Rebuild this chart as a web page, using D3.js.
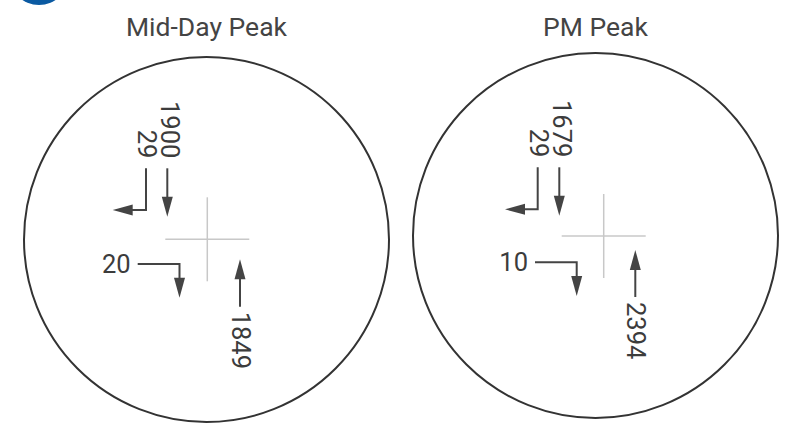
<!DOCTYPE html>
<html>
<head>
<meta charset="utf-8">
<script src="https://cdn.jsdelivr.net/npm/d3@7"></script>
<style>
  html, body { margin: 0; padding: 0; background: #fff; }
  svg { display: block; }
  text { font-family: Roboto, "Noto Sans", sans-serif; }
</style>
</head>
<body>
<svg id="chart" width="799" height="425"></svg>
<script>
// ---- data ----
const panels = ["Mid-Day Peak", "PM Peak"];
const southThrough = [1900, 1679];   // southbound through
const southRight = [29, 29];         // southbound right turn (to west)
const eastRight = [20, 10];          // eastbound right turn (to south)
const northThrough = [1849, 2394];   // northbound through

// ---- layout ----
const svg = d3.select("#chart");
const xCircle = d3.scaleOrdinal().domain(panels).range([206.5, 595.5]);
const yCircle = d3.scaleOrdinal().domain(panels).range([239.5, 235.5]);
const xCross = d3.scaleOrdinal().domain(panels).range([207.3, 603.7]);
const yCross = d3.scaleOrdinal().domain(panels).range([239.3, 236]);
const R = 182.5;
const textCol = "#3c3c3c", arrowCol = "#444";

// per-panel arrow geometry, relative to crosshair centre
const geom = {
  "Mid-Day Peak": { thrX: -40, turnX: -61.3, topY: -71, thrTip: -22.6, turnY: -29.3, turnTip: -94.6,
                    ebX: -69.6, ebY: 24.7, ebCorner: -27.8, ebTip: 58.4,
                    nbX: 32.7, nbBot: 67.4, nbTip: 20 },
  "PM Peak":      { thrX: -44.4, turnX: -66, topY: -68.7, thrTip: -20.3, turnY: -26.7, turnTip: -98.7,
                    ebX: -68.7, ebY: 26.3, ebCorner: -27, ebTip: 60,
                    nbX: 31.6, nbBot: 61, nbTip: 14 }
};

// decorative blue badge at top-left
svg.append("circle").attr("cx", 39).attr("cy", -25).attr("r", 30).attr("fill", "#0b5aa2");

function arrowHead(g, x, y, dir) {
  const L = 20, hw = 5.5;
  let pts;
  if (dir === "down") pts = [[x, y], [x - hw, y - L], [x + hw, y - L]];
  if (dir === "up") pts = [[x, y], [x - hw, y + L], [x + hw, y + L]];
  if (dir === "left") pts = [[x, y], [x + L, y - hw], [x + L, y + hw]];
  g.append("path").attr("d", "M" + pts.map(p => p.join(",")).join("L") + "Z").attr("fill", arrowCol);
}
function polyline(g, pts) {
  g.append("path").attr("d", d3.line()(pts)).attr("fill", "none")
    .attr("stroke", arrowCol).attr("stroke-width", 2);
}
const fs = 25.5;

panels.forEach((p, i) => {
  const g = svg.append("g");
  const cx = xCircle(p), cy = yCircle(p);
  const X = xCross(p), Y = yCross(p);
  const m = geom[p];

  // title
  g.append("text").attr("x", cx).attr("y", 36).attr("text-anchor", "middle")
    .attr("font-size", 26.5).attr("font-weight", 400).attr("fill", "#444").text(p);

  // circle
  g.append("circle").attr("cx", cx).attr("cy", cy).attr("r", R)
    .attr("fill", "none").attr("stroke", "#333").attr("stroke-width", 2);

  // crosshair
  g.append("line").attr("x1", X - 42).attr("x2", X + 42).attr("y1", Y).attr("y2", Y)
    .attr("stroke", "#c8c8c8").attr("stroke-width", 1.5);
  g.append("line").attr("x1", X).attr("x2", X).attr("y1", Y - 42).attr("y2", Y + 42)
    .attr("stroke", "#c8c8c8").attr("stroke-width", 1.5);

  // southbound through
  polyline(g, [[X + m.thrX, Y + m.topY], [X + m.thrX, Y + m.thrTip - 10]]);
  arrowHead(g, X + m.thrX, Y + m.thrTip, "down");
  g.append("text").attr("transform", `translate(${X + m.thrX + 2.8},${Y + m.topY - 10}) rotate(90)`)
    .attr("text-anchor", "end").attr("dy", "0.35em").attr("font-size", fs).attr("fill", textCol)
    .text(southThrough[i]);

  // southbound right turn
  polyline(g, [[X + m.turnX, Y + m.topY], [X + m.turnX, Y + m.turnY], [X + m.turnTip + 10, Y + m.turnY]]);
  arrowHead(g, X + m.turnTip, Y + m.turnY, "left");
  g.append("text").attr("transform", `translate(${X + m.turnX + 1.2},${Y + m.topY - 10}) rotate(90)`)
    .attr("text-anchor", "end").attr("dy", "0.35em").attr("font-size", fs).attr("fill", textCol)
    .text(southRight[i]);

  // eastbound right turn
  polyline(g, [[X + m.ebX, Y + m.ebY], [X + m.ebCorner, Y + m.ebY], [X + m.ebCorner, Y + m.ebTip - 10]]);
  arrowHead(g, X + m.ebCorner, Y + m.ebTip, "down");
  g.append("text").attr("x", X + m.ebX - 7).attr("y", Y + m.ebY).attr("dy", "0.35em")
    .attr("text-anchor", "end").attr("font-size", fs).attr("fill", textCol)
    .text(eastRight[i]);

  // northbound through
  polyline(g, [[X + m.nbX, Y + m.nbBot], [X + m.nbX, Y + m.nbTip + 10]]);
  arrowHead(g, X + m.nbX, Y + m.nbTip, "up");
  g.append("text").attr("transform", `translate(${X + m.nbX + 0.5},${Y + m.nbBot + 5}) rotate(90)`)
    .attr("text-anchor", "start").attr("dy", "0.35em").attr("font-size", fs).attr("fill", textCol)
    .text(northThrough[i]);
});
</script>
</body>
</html>
